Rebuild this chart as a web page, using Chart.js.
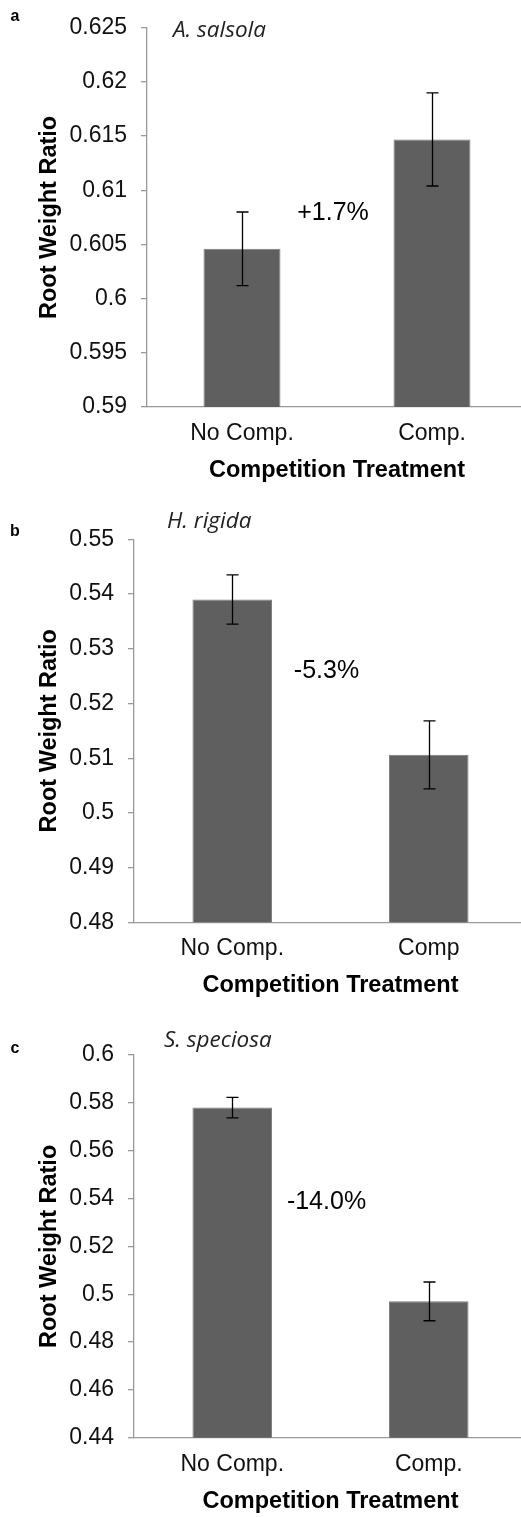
<!DOCTYPE html>
<html>
<head>
<meta charset="utf-8">
<title>Root Weight Ratio</title>
<script src="https://cdn.jsdelivr.net/npm/chart.js@4.4.1/dist/chart.umd.min.js"></script>
<style>
  html, body { margin: 0; padding: 0; background: #fff; overflow: hidden; }
  body { position: relative; width: 521px; height: 1517px; }
  canvas { position: absolute; left: 0; }
</style>
</head>
<body>
<canvas id="panel-a" width="528" height="501" style="top:0px"></canvas>
<canvas id="panel-b" width="528" height="516" style="top:500px"></canvas>
<canvas id="panel-c" width="528" height="516" style="top:1016px"></canvas>
<script>
// treatments
const catsA = ['No Comp.', 'Comp.'];
const catsB = ['No Comp.', 'Comp'];
const catsC = ['No Comp.', 'Comp.'];

// mean root weight ratio and standard error
const meanA = [0.6046, 0.6147];
const errA  = [0.0034, 0.0043];
const meanB = [0.5390, 0.5106];
const errB  = [0.0045, 0.0062];
const meanC = [0.5780, 0.4970];
const errC  = [0.0043, 0.0081];

// y ticks
const ticksA = [0.59, 0.595, 0.6, 0.605, 0.61, 0.615, 0.62, 0.625];
const ticksB = [0.48, 0.49, 0.5, 0.51, 0.52, 0.53, 0.54, 0.55];
const ticksC = [0.44, 0.46, 0.48, 0.5, 0.52, 0.54, 0.56, 0.58, 0.6];

const species = ['A. salsola', 'H. rigida', 'S. speciosa'];
const letters = ['a', 'b', 'c'];
const changes = ['+1.7%', '-5.3%', '-14.0%'];

const AXIS = '#9a9a9a';
const BAR = '#5f5f5f';
const FONT = 'Arial, "Liberation Sans", sans-serif';

// per panel layout (canvas px)
const panels = [
  { id: 'panel-a', cats: catsA, mean: meanA, err: errA, ticks: ticksA, step: 0.005,
    top: 24, bottom: 94, yAxisW: 114, pctAt: 0.6079,
    sp: [173, 31], letter: [15, 17] },
  { id: 'panel-b', cats: catsB, mean: meanB, err: errB, ticks: ticksB, step: 0.01,
    top: 39.3, bottom: 93.7, yAxisW: 101, pctAt: 0.526,
    sp: [167, 21.7], letter: [15, 31.7] },
  { id: 'panel-c', cats: catsC, mean: meanC, err: errC, ticks: ticksC, step: 0.02,
    top: 39, bottom: 94.3, yAxisW: 101, pctAt: 0.5387,
    sp: [164, 24.7], letter: [15, 33] }
];

function fmt(v) {
  return String(parseFloat(v.toFixed(4)));
}

const errorBars = {
  id: 'errorBars',
  afterDatasetsDraw(chart, args, opts) {
    const ctx = chart.ctx;
    const y = chart.scales.y;
    const meta = chart.getDatasetMeta(0);
    ctx.save();
    ctx.strokeStyle = '#000';
    ctx.lineWidth = 1.3;
    meta.data.forEach((bar, i) => {
      const m = opts.mean[i], e = opts.err[i];
      const x = Math.round(bar.x) + 0.5;
      const y1 = y.getPixelForValue(m + e), y2 = y.getPixelForValue(m - e);
      ctx.beginPath();
      ctx.moveTo(x, y1); ctx.lineTo(x, y2);
      ctx.moveTo(x - 6, y1); ctx.lineTo(x + 6, y1);
      ctx.moveTo(x - 6, y2); ctx.lineTo(x + 6, y2);
      ctx.stroke();
    });
    ctx.restore();
  }
};

const panelText = {
  id: 'panelText',
  afterDraw(chart, args, opts) {
    const ctx = chart.ctx;
    const xs = chart.scales.x, ys = chart.scales.y;
    ctx.save();
    ctx.textBaseline = 'middle';
    // percent change between the bars
    ctx.fillStyle = '#000';
    ctx.textAlign = 'center';
    ctx.font = '25px ' + FONT;
    const mid = (xs.getPixelForValue(0) + xs.getPixelForValue(1)) / 2 - 4;
    ctx.fillText(opts.change, mid, ys.getPixelForValue(opts.pctAt));
    // species name
    ctx.textAlign = 'left';
    ctx.font = 'italic 22.5px "Open Sans", sans-serif';
    ctx.fillStyle = '#222';
    ctx.fillText(opts.species, opts.sp[0], opts.sp[1]);
    // panel letter
    ctx.textAlign = 'center';
    ctx.font = 'bold 16px ' + FONT;
    ctx.fillStyle = '#000';
    ctx.fillText(opts.letter, opts.lpos[0], opts.lpos[1]);
    ctx.restore();
  }
};

panels.forEach((p, k) => {
  const lo = p.ticks[0], hi = p.ticks[p.ticks.length - 1];
  new Chart(document.getElementById(p.id), {
    type: 'bar',
    data: {
      labels: p.cats,
      datasets: [{
        data: p.mean,
        backgroundColor: BAR,
        borderColor: '#7c7c7c',
        borderWidth: 1,
        categoryPercentage: 1,
        barPercentage: 0.405
      }]
    },
    options: {
      responsive: false,
      animation: false,
      devicePixelRatio: 1,
      layout: { padding: { left: 33, right: 1, top: p.top, bottom: 0 } },
      plugins: {
        legend: { display: false },
        tooltip: { enabled: false },
        errorBars: { mean: p.mean, err: p.err },
        panelText: { change: changes[k], species: species[k], sp: p.sp,
                     letter: letters[k], lpos: p.letter, pctAt: p.pctAt }
      },
      scales: {
        x: {
          grid: { display: false, drawTicks: false },
          border: { display: true, color: AXIS, width: 1.3 },
          ticks: { color: '#111', padding: 13, font: { family: FONT, size: 23 } },
          title: {
            display: true, text: 'Competition Treatment', color: '#000',
            padding: { top: 0, bottom: 16 },
            font: { family: FONT, size: 23.5, weight: 'bold' }
          },
          afterFit(s) { s.height = p.bottom; }
        },
        y: {
          min: lo, max: hi,
          grid: { drawOnChartArea: false, drawTicks: true, tickLength: 6, color: AXIS, lineWidth: 1.3 },
          border: { display: true, color: AXIS, width: 1.3 },
          ticks: {
            stepSize: p.step, padding: 14, color: '#111',
            font: { family: FONT, size: 23 },
            callback: v => fmt(v)
          },
          title: {
            display: true, text: 'Root Weight Ratio', color: '#000',
            padding: { top: 2, bottom: 0 },
            font: { family: FONT, size: 23.5, weight: 'bold' }
          },
          afterFit(s) { s.width = p.yAxisW; }
        }
      }
    },
    plugins: [errorBars, panelText]
  });
});
</script>
</body>
</html>
